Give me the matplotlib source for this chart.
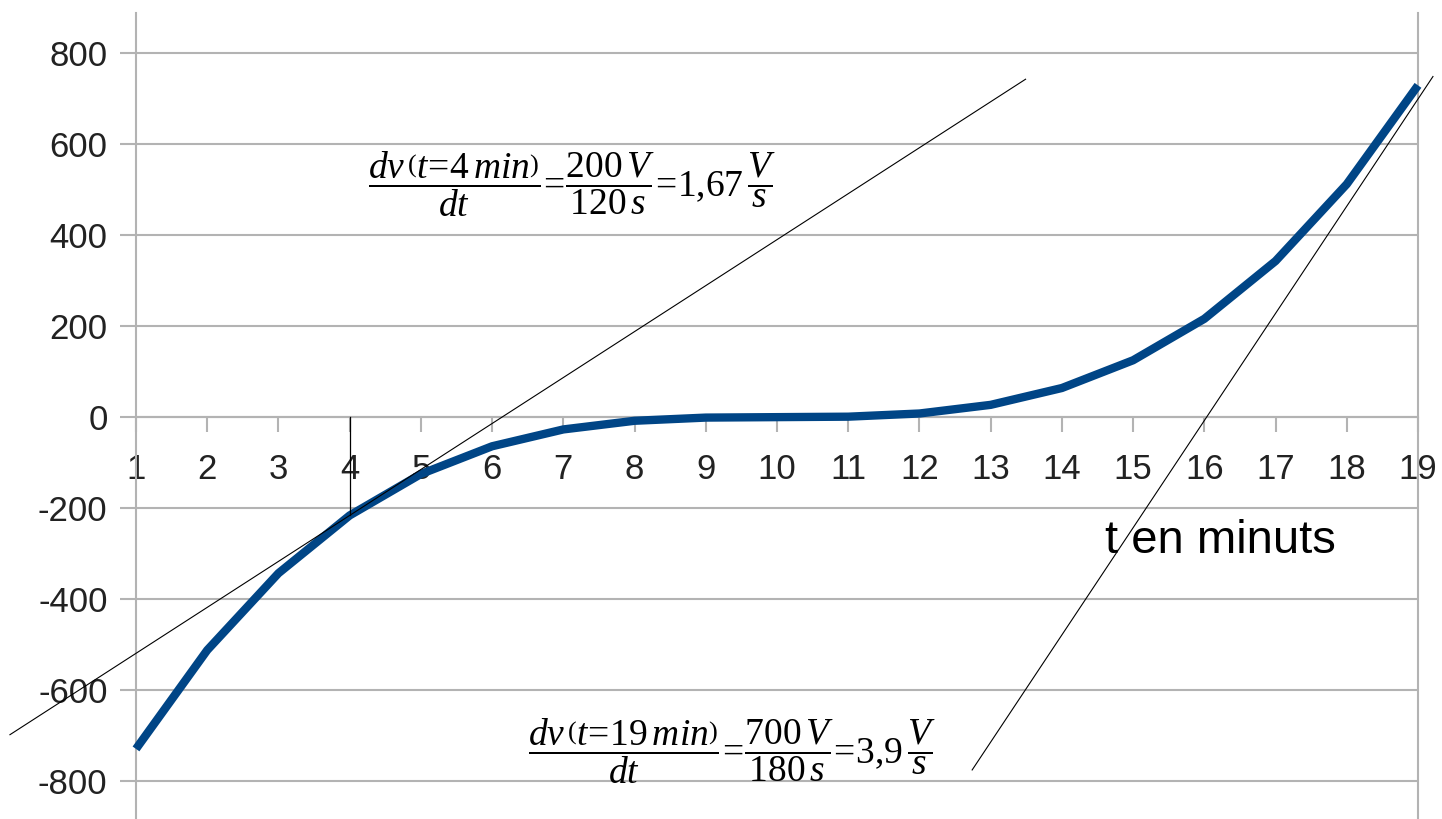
import matplotlib
matplotlib.use('Agg')
import matplotlib.pyplot as plt
import numpy as np

# values
t_min = [1, 2, 3, 4, 5, 6, 7, 8, 9, 10, 11, 12, 13, 14, 15, 16, 17, 18, 19]
voltage = [-729, -512, -343, -216, -125, -64, -27, -8, -1, 0,
           1, 8, 27, 64, 125, 216, 343, 512, 729]
y_ticks = [-800, -600, -400, -200, 0, 200, 400, 600, 800]

# hand drawn tangents: anchor point, slope (V per minute), t range
tan1_point = (4, -216)
tan1_slope = 101
tan1_range = (-0.77, 13.49)
tan2_point = (19, 699)
tan2_slope = 235.5
tan2_range = (12.74, 19.21)

EQ = r'\!=\!'
formula1 = (r'$\dfrac{dv\,\left(t' + EQ + r'4\,min\right)}{dt}' + EQ +
            r'\dfrac{200\,V}{120\,s}' + EQ + r'1{,}67\,\dfrac{V}{s}$')
formula2 = (r'$\dfrac{dv\,\left(t' + EQ + r'19\,min\right)}{dt}' + EQ +
            r'\dfrac{700\,V}{180\,s}' + EQ + r'3{,}9\,\dfrac{V}{s}$')
x_label = 't en minuts'

plt.rcParams['font.family'] = ['Liberation Sans', 'DejaVu Sans']
plt.rcParams['mathtext.fontset'] = 'custom'
plt.rcParams['mathtext.rm'] = 'Liberation Serif'
plt.rcParams['mathtext.it'] = 'Liberation Serif:italic'
plt.rcParams['mathtext.bf'] = 'Liberation Serif:bold'

W, H = 1442, 819
fig = plt.figure(figsize=(W / 100, H / 100), dpi=100)
ax = fig.add_axes([136 / W, 0, (1418 - 136) / W, (819 - 13) / H])

grid_col = '#b3b3b3'
ax.plot(t_min, voltage, color='#004586', linewidth=6, solid_capstyle='butt',
        clip_on=False, zorder=3)

ax.set_xlim(1, 19)
ax.set_ylim(-883, 888)
ax.set_yticks(y_ticks)
ax.set_yticklabels([str(v) for v in y_ticks])
ax.set_xticks(t_min)
ax.set_xticklabels([str(t) for t in t_min])
ax.yaxis.grid(True, color=grid_col, linewidth=1.5)
ax.set_axisbelow(True)

ax.spines['top'].set_visible(False)
ax.spines['bottom'].set_position(('data', 0))
ax.spines['bottom'].set_color(grid_col)
ax.spines['bottom'].set_linewidth(1.5)
for s in ['left', 'right']:
    ax.spines[s].set_color(grid_col)
    ax.spines[s].set_linewidth(1.5)

ax.tick_params(axis='y', length=11.5, width=1.5, color=grid_col, pad=9,
               labelsize=25, labelcolor='#222222')
ax.tick_params(axis='x', length=11, width=1.5, color=grid_col, pad=15,
               labelsize=25, labelcolor='#222222')

# tangents and the marker at t = 4
for (p, m, r) in [(tan1_point, tan1_slope, tan1_range), (tan2_point, tan2_slope, tan2_range)]:
    xs = np.array(r)
    ys = p[1] + m * (xs - p[0])
    ax.plot(xs, ys, color='black', linewidth=0.8, clip_on=False, zorder=4)
ax.plot([tan1_point[0], tan1_point[0]], [0, tan1_point[1]], color='black',
        linewidth=0.9, zorder=4)

fig.text(368 / W, 1 - 184 / H, formula1, fontsize=27, ha='left', va='center')
fig.text(528 / W, 1 - 751 / H, formula2, fontsize=27, ha='left', va='center')
fig.text(1105 / W, 1 - 553 / H, x_label, fontsize=34, ha='left', va='baseline')

fig.savefig('out.png', dpi=100)
